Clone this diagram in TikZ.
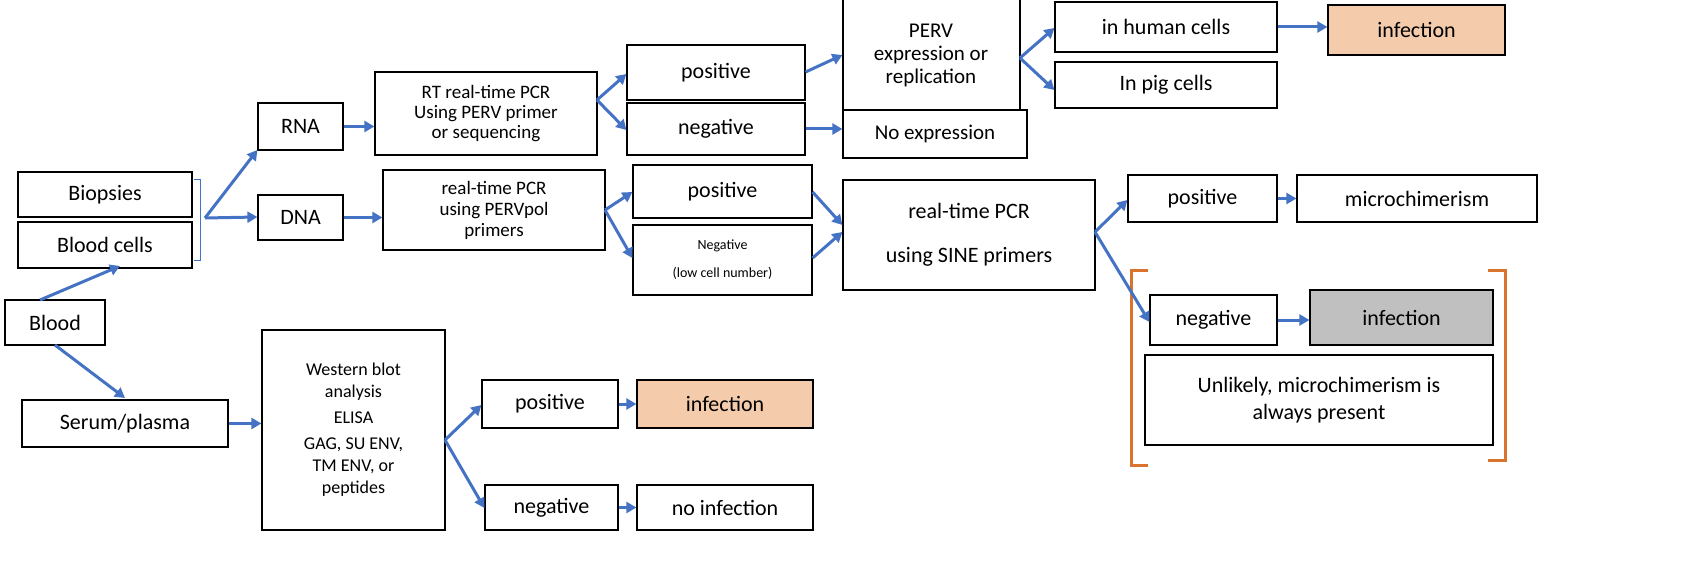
\documentclass[tikz,border=0pt]{standalone}
\usepackage{fontspec}
\setmainfont{Carlito}
\usetikzlibrary{arrows.meta}
\definecolor{ar}{HTML}{4472C4}
\definecolor{tan}{HTML}{F4CCAC}
\definecolor{gr}{HTML}{C0C0C0}
\definecolor{br}{HTML}{D8742E}
\begin{document}
\begin{tikzpicture}[x=1pt,y=-1pt,
 bx/.style={draw,line width=1.2pt,align=center,font=\fontsize{22}{25}\selectfont,inner sep=0pt},
 ar/.style={draw=ar,line width=3pt,-{Triangle[length=10pt,width=11pt]}}]
\useasboundingbox (0,0) rectangle (1699,588);
\newcommand\bb[6][]{\node[bx,#1,minimum width=#4-#2,minimum height=#5-#3] (#6) at ({(#2+#4)/2},{(#3+#5)/2}) {};}
\bb{18}{172}{192}{217}{bio}\node[font=\fontsize{22}{25}\selectfont] at (bio) {Biopsies};
\bb{18}{222}{192}{268}{bc}\node[font=\fontsize{22}{25}\selectfont] at (bc) {Blood cells};
\bb{5}{300}{105}{345}{blood}\node[font=\fontsize{22}{25}\selectfont] at (blood) {Blood};
\bb{22}{400}{228}{447}{ser}\node[font=\fontsize{22}{25}\selectfont] at (ser) {Serum/plasma};
\bb{258}{103}{343}{150}{rna}\node[font=\fontsize{22}{25}\selectfont] at (rna) {RNA};
\bb{258}{195}{343}{240}{dna}\node[font=\fontsize{22}{25}\selectfont] at (dna) {DNA};
\bb{375}{72}{597}{155}{rt}\node[align=center,font=\fontsize{19}{20}\selectfont] at (rt) {RT real-time PCR\\Using PERV primer\\or sequencing};
\bb{383}{170}{605}{250}{pcr}\node[align=center,font=\fontsize{19}{21}\selectfont] at (pcr) {real-time PCR\\using PERVpol\\primers};
\bb{627}{45}{805}{100}{p1}\node[font=\fontsize{22}{25}\selectfont] at (p1) {positive};
\bb{627}{103}{805}{155}{n1}\node[font=\fontsize{22}{25}\selectfont] at (n1) {negative};
\bb{843}{-4}{1020}{110}{perv}\node[align=center,font=\fontsize{21}{23}\selectfont] at (931,55) {PERV\\expression or\\replication};
\bb{843}{110}{1027}{158}{noe}\node[font=\fontsize{21}{25}\selectfont] at (noe) {No expression};
\bb{1055}{2}{1277}{52}{hum}\node[font=\fontsize{22}{25}\selectfont] at (hum) {in human cells};
\bb{1055}{62}{1277}{108}{pig}\node[font=\fontsize{22}{25}\selectfont] at (pig) {In pig cells};
\bb[fill=tan]{1328}{5}{1505}{55}{inf1}\node[font=\fontsize{22}{25}\selectfont] at (inf1) {infection};
\bb{633}{165}{812}{218}{p2}\node[font=\fontsize{22}{25}\selectfont] at (p2) {positive};
\bb{633}{225}{812}{295}{n2}\node[align=center,font=\fontsize{14}{28}\selectfont] at (n2) {Negative\\(low cell number)};
\bb{843}{180}{1095}{290}{sine}\node[align=center,font=\fontsize{22}{44}\selectfont] at (sine) {real-time PCR\\using SINE primers};
\bb{1128}{175}{1277}{222}{p3}\node[font=\fontsize{22}{25}\selectfont] at (p3) {positive};
\bb{1297}{175}{1537}{222}{mic}\node[font=\fontsize{22}{25}\selectfont] at (mic) {microchimerism};
\bb{1150}{295}{1277}{345}{n3}\node[font=\fontsize{22}{25}\selectfont] at (n3) {negative};
\bb[fill=gr]{1310}{290}{1493}{345}{inf2}\node[font=\fontsize{22}{25}\selectfont] at (inf2) {infection};
\bb{1145}{355}{1493}{445}{unl}\node[align=center,font=\fontsize{22}{27}\selectfont] at (unl) {Unlikely, microchimerism is\\always present};
\bb{262}{330}{445}{530}{wb}\node[align=center,font=\fontsize{18}{22}\selectfont] at (wb) {Western blot\\analysis\\[4pt]ELISA\\[4pt]GAG, SU ENV,\\TM ENV, or\\peptides};
\bb{482}{380}{618}{428}{p4}\node[font=\fontsize{22}{25}\selectfont] at (p4) {positive};
\bb[fill=tan]{637}{380}{813}{428}{inf3}\node[font=\fontsize{22}{25}\selectfont] at (inf3) {infection};
\bb{485}{485}{618}{530}{n4}\node[font=\fontsize{22}{25}\selectfont] at (n4) {negative};
\bb{637}{485}{813}{530}{noi}\node[font=\fontsize{22}{25}\selectfont] at (noi) {no infection};
% brackets
\draw[ar,line width=1pt,-] (194,180) -- (200,180) -- (200,260) -- (194,260);
\coordinate (brk) at (205,218);
\draw[br,line width=3pt] (1148,270) -- (1131,270) -- (1131,465) -- (1148,465);
\draw[br,line width=3pt] (1488,270) -- (1505,270) -- (1505,460) -- (1488,460);
% arrows
\draw[ar] (40,300) -- (120,266);
\draw[ar] (55,345) -- (125,398);
\draw[ar] (brk) -- (rna.west|-0,150) ;
\draw[ar] (brk) -- (dna.west|-0,217);
\draw[ar] (rna) -- (rt.west|-rna);
\draw[ar] (dna) -- (pcr.west|-dna);
\coordinate (rtj) at (597,100); \coordinate (pcrj) at (605,210);
\draw[ar] (rtj) -- (p1.west|-0,74);
\draw[ar] (rtj) -- (n1.west|-0,130);
\draw[ar] (pcrj) -- (p2.west|-0,192);
\draw[ar] (pcrj) -- (n2.west|-0,258);
\draw[ar] (p1.east|-0,72) -- (perv.west|-0,55);
\draw[ar] (n1) -- (noe.west|-n1);
\coordinate (pj) at (1020,58);
\draw[ar] (pj) -- (hum.west|-0,28);
\draw[ar] (pj) -- (pig.west|-0,90);
\draw[ar] (hum) -- (inf1.west|-hum);
\draw[ar] (p2.east|-0,192) -- (sine.west|-0,225);
\draw[ar] (n2.east|-0,258) -- (sine.west|-0,232);
\coordinate (sj) at (1095,232);
\draw[ar] (sj) -- (p3.west|-0,200);
\draw[ar] (sj) -- (n3.west|-0,322);
\draw[ar] (p3) -- (mic.west|-p3);
\draw[ar] (n3) -- (inf2.west|-n3);
\draw[ar] (ser) -- (wb.west|-ser);
\coordinate (wj) at (445,440);
\draw[ar] (wj) -- (p4.west|-0,405);
\draw[ar] (wj) -- (n4.west|-0,508);
\draw[ar] (p4) -- (inf3.west|-p4);
\draw[ar] (n4) -- (noi.west|-n4);
\end{tikzpicture}
\end{document}
